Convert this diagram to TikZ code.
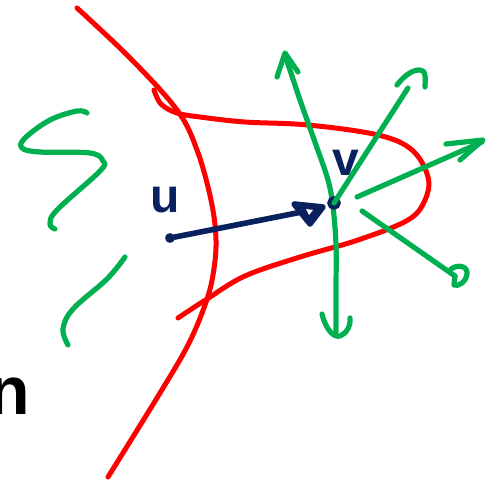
\documentclass[tikz,border=0pt]{standalone}
\usepackage{fontspec}
\setmainfont{Liberation Sans}
\usetikzlibrary{arrows.meta}
\definecolor{penred}{HTML}{FF0000}
\definecolor{pengreen}{HTML}{00B050}
\definecolor{pennavy}{HTML}{0A2160}
\tikzset{
  redstroke/.style={draw=penred, line width=5, line cap=round, line join=round},
  greenstroke/.style={draw=pengreen, line width=5.2, line cap=round, line join=round},
  navystroke/.style={draw=pennavy, line width=5.6, line cap=round, line join=round},
  dotnode/.style={circle, draw=pennavy, fill=white, inner sep=0pt},
  letter/.style={text=pennavy, font=\bfseries\fontsize{48}{48}\selectfont, inner sep=0pt},
}
\begin{document}
\begin{tikzpicture}[x=1pt,y=-1pt]
\useasboundingbox (0,0) rectangle (491,484);
% big red curve
\path[redstroke] plot[smooth, tension=0.6] coordinates {(77,8) (130,58) (177,110) (197,150) (211,200) (216,240) (213,275) (205,305) (188,345) (160,393) (108,477)};
% red loop
\path[redstroke] plot[smooth, tension=0.6] coordinates {(154,90) (161,104) (177,113) (200,117) (245,122) (308,125) (378,135) (412,150) (428,177) (425,200) (408,220) (358,240) (300,257) (245,276) (207,299) (178,318)};
% green squiggles
\path[greenstroke] plot[smooth, tension=0.6] coordinates {(87,113) (77,111) (50,120) (25,138) (22,148) (40,152) (90,153) (103,161) (100,171) (57,210) (50,224) (55,229)};
\path[greenstroke] plot[smooth, tension=0.6] coordinates {(125,257) (107,279) (73,309) (63,329) (68,345)};
% nodes
\node[dotnode, line width=4.5, minimum size=5pt] (u) at (170,238) {};
\node[letter] (ulab) at (165,200) {u};
\node[letter] (vlab) at (346,163) {v};
\node[font=\bfseries\fontsize{68}{68}\selectfont, inner sep=0pt, anchor=base east] (n) at (30,415) {n};
% green vertical line through v
\coordinate (gtop) at (286,58);
\coordinate (gbot) at (336,333);
\path[greenstroke] plot[smooth, tension=0.6] coordinates {(gtop) (300,100) (316,145) (328,180) (333,207) (336,245) (336,290) (gbot)};
\node[dotnode, line width=4.5, minimum size=9pt] (v) at (334,203) {};
\path[greenstroke] (277,77) -- (285,53) -- (298,72);
\path[greenstroke] (322,314) .. controls (326,330) and (334,338) .. (340,336) .. controls (346,334) and (351,326) .. (350,318);
% navy arrow u -> v
\coordinate (uv) at (312,210);
\path[navystroke] (u) -- (uv);
\path[navystroke, fill=pennavy] (294,204) -- (323,207) -- (310,224) -- cycle;
\fill[white] (306,209) -- (313,210) -- (309,215) -- cycle;
% up-right arrow
\coordinate (gur) at (408,88);
\path[greenstroke] (v.center) -- (gur);
\path[greenstroke] (397,85) .. controls (405,74) and (418,66) .. (424,72) .. controls (426,76) and (425,82) .. (425,87);
% right arrow
\coordinate (gr) at (482,142);
\path[greenstroke] (357,197) -- (gr);
\path[greenstroke] (446,144) -- (483,140) -- (460,160);
% down-right arrow
\coordinate (gdr) at (455,276);
\path[greenstroke] (362,211) -- (gdr);
\path[greenstroke] (451,269) .. controls (458,264) and (468,266) .. (467,274) .. controls (466,282) and (458,287) .. (454,285) -- (455,276);
\end{tikzpicture}
\end{document}
